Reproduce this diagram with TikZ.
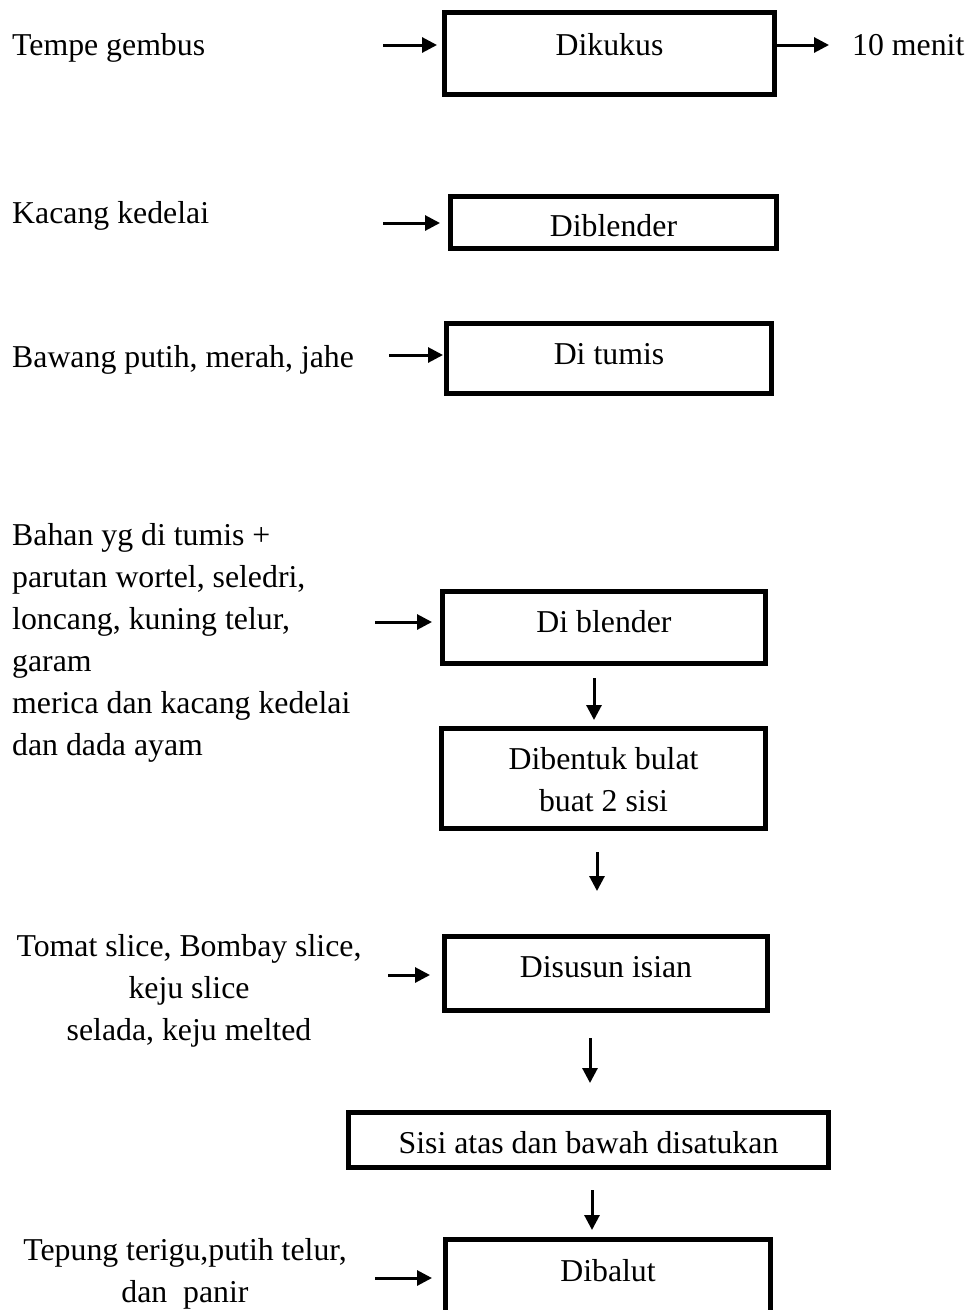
\documentclass[tikz,border=0pt]{standalone}
\usepackage{fontspec}
\setmainfont{Liberation Serif}
\usetikzlibrary{arrows.meta}
\tikzset{
  box/.style={draw, line width=5pt, inner sep=0pt, line join=miter},
  txt/.style={inner sep=0pt, font=\fontsize{31.8}{42}\selectfont},
  arr/.style={line width=3pt, -{Triangle[length=15pt,width=15pt]}},
}
\begin{document}
\begin{tikzpicture}[x=1pt,y=-1pt]
\clip (0,0) rectangle (969,1310);
\fill[white] (0,0) rectangle (969,1310);
% boxes
\node[box, minimum width=330pt, minimum height=82.5pt] (b1) at (609.5,53.25) {};
\node[box, minimum width=326pt, minimum height=52pt] (b2) at (613.5,222.5) {};
\node[box, minimum width=325pt, minimum height=70pt] (b3) at (609,358.5) {};
\node[box, minimum width=323pt, minimum height=72pt] (b4) at (604,627.5) {};
\node[box, minimum width=324pt, minimum height=100pt] (b5) at (603.5,778.5) {};
\node[box, minimum width=323pt, minimum height=74pt] (b6) at (606,973.5) {};
\node[box, minimum width=480pt, minimum height=55pt] (b7) at (588.5,1140) {};
\node[box, minimum width=325pt, minimum height=88pt] (b8) at (608,1283.5) {};
% box texts
\node[txt, anchor=base] (t1) at (609.5,55) {Dikukus};
\node[txt, anchor=base] (t2) at (613.5,236) {Diblender};
\node[txt, anchor=base] (t3) at (609,364) {Di tumis};
\node[txt, anchor=base] (t4) at (604,632) {Di blender};
\node[txt, anchor=base, align=center] (t5) at (603.5,811) {Dibentuk bulat\\buat 2 sisi};
\node[txt, anchor=base] (t6) at (606,977) {Disusun isian};
\node[txt, anchor=base] (t7) at (588.5,1153) {Sisi atas dan bawah disatukan};
\node[txt, anchor=base] (t8) at (608,1281) {Dibalut};
% side texts
\node[txt, anchor=base west] (s1) at (12,55) {Tempe gembus};
\node[txt, anchor=base west] (s1r) at (852,55) {10 menit};
\node[txt, anchor=base west] (s2) at (12,223) {Kacang kedelai};
\node[txt, anchor=base west] (s3) at (12,367) {Bawang putih, merah, jahe};
\node[txt, anchor=base west, align=left] (s4) at (12,755) {Bahan yg di tumis +\\parutan wortel, seledri,\\loncang, kuning telur,\\garam\\merica dan kacang kedelai\\dan dada ayam};
\node[txt, anchor=base, align=center] (s6) at (189,1040) {Tomat slice, Bombay slice,\\keju slice\\selada, keju melted};
\node[txt, anchor=base, align=center] (s8) at (185,1302) {Tepung terigu,putih telur,\\dan\ \ panir};
% arrow anchor points
\coordinate (a1) at (383,45);
\coordinate (o1) at (829,45);
\coordinate (a2) at (383,223);
\coordinate (a3) at (389,355);
\coordinate (a4) at (375,622);
\coordinate (a6) at (388,975);
\coordinate (a8) at (375,1278);
\coordinate (d2s) at (597,852);
\coordinate (d2e) at (597,891);
\coordinate (d3s) at (590,1038);
\coordinate (d3e) at (590,1083);
% arrows
\draw[arr, shorten >=5pt] (a1) -- (a1 -| b1.west);
\draw[arr] (a1 -| b1.east) -- (o1);
\draw[arr, shorten >=8pt] (a2) -- (a2 -| b2.west);
\draw[arr, shorten >=1pt] (a3) -- (a3 -| b3.west);
\draw[arr, shorten >=8pt] (a4) -- (a4 -| b4.west);
\draw[arr, shorten >=12pt] (a6) -- (a6 -| b6.west);
\draw[arr, shorten >=11pt] (a8) -- (a8 -| b8.west);
\draw[arr, shorten <=12pt, shorten >=6pt] (b4.south -| 594,0) -- (b5.north -| 594,0);
\draw[arr] (d2s) -- (d2e);
\draw[arr] (d3s) -- (d3e);
\draw[arr, shorten <=20pt, shorten >=7pt] (b7.south -| 592,0) -- (b8.north -| 592,0);
\end{tikzpicture}
\end{document}
